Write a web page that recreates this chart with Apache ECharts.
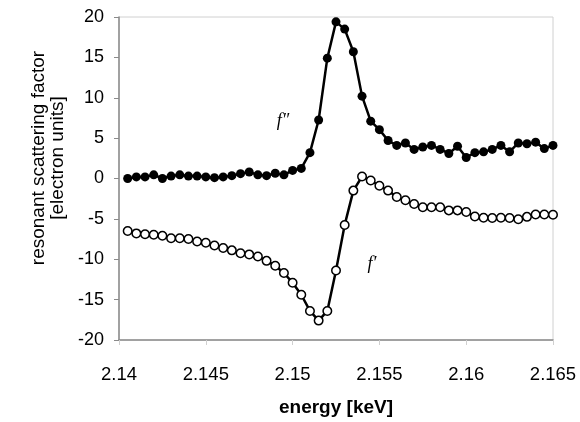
<!DOCTYPE html>
<html><head><meta charset="utf-8">
<script src="https://cdn.jsdelivr.net/npm/echarts@6/dist/echarts.min.js"></script>
<style>html,body{margin:0;padding:0;background:#fff}#c{width:580px;height:422px}</style>
</head><body><div id="c"></div>
<script>
var energy = [2.1405,2.141,2.1415,2.142,2.1425,2.143,2.1435,2.144,2.1445,2.145,
  2.1455,2.146,2.1465,2.147,2.1475,2.148,2.1485,2.149,2.1495,2.15,
  2.1505,2.151,2.1515,2.152,2.1525,2.153,2.1535,2.154,2.1545,2.155,
  2.1555,2.156,2.1565,2.157,2.1575,2.158,2.1585,2.159,2.1595,2.16,
  2.1605,2.161,2.1615,2.162,2.1625,2.163,2.1635,2.164,2.1645,2.165];
var fDoublePrime = [0.0,0.2,0.2,0.45,0.0,0.3,0.45,0.3,0.3,0.2,
  0.1,0.2,0.35,0.6,0.8,0.45,0.35,0.65,0.45,1.0,
  1.25,3.2,7.25,14.9,19.4,18.5,15.7,10.2,7.1,6.05,
  4.7,4.1,4.4,3.6,3.9,4.1,3.6,3.1,4.0,2.6,
  3.2,3.3,3.6,4.1,3.3,4.4,4.3,4.5,3.7,4.1];
var fPrime = [-6.5,-6.8,-6.9,-6.97,-7.1,-7.4,-7.4,-7.5,-7.8,-7.95,
  -8.3,-8.6,-8.9,-9.25,-9.4,-9.65,-10.2,-10.8,-11.7,-12.9,
  -14.4,-16.4,-17.6,-16.4,-11.4,-5.75,-1.5,0.25,-0.25,-0.9,
  -1.5,-2.3,-2.7,-3.15,-3.55,-3.55,-3.55,-3.95,-3.95,-4.15,
  -4.7,-4.85,-4.9,-4.85,-4.9,-5.05,-4.75,-4.45,-4.45,-4.5];
var yTitleLines = ['resonant scattering factor','[electron units]'];
var xTitle = 'energy [keV]';
var seriesLabels = ['f\u2033','f\u2032'];

function pairs(ys){ return energy.map(function(e,i){return [e, ys[i]];}); }

var chart = echarts.init(document.getElementById('c'), null, {renderer:'canvas'});
chart.setOption({
  animation:false,
  backgroundColor:'#fff',
  grid:{left:119,right:27,top:17,bottom:77,show:true,borderColor:'#d0d0d0',borderWidth:1},
  xAxis:{type:'value',min:2.14,max:2.165,interval:0.005,
    axisLine:{show:true,onZero:false,lineStyle:{color:'#8a8a8a',width:1.5}},
    axisTick:{show:true,length:5,lineStyle:{color:'#d0d0d0'}},
    splitLine:{show:false},
    axisLabel:{color:'#000',fontFamily:'Liberation Sans',fontSize:18.5,margin:25,
      formatter:function(v){return String(+v.toFixed(3));}},
    name:xTitle,nameLocation:'middle',nameGap:58,
    nameTextStyle:{color:'#000',fontFamily:'Liberation Sans',fontSize:19,fontWeight:'bold'}},
  yAxis:{type:'value',min:-20,max:20,interval:5,
    axisLine:{show:true,onZero:false,lineStyle:{color:'#8a8a8a',width:1.5}},
    axisTick:{show:true,length:5,lineStyle:{color:'#8a8a8a'}},
    splitLine:{show:false},
    axisLabel:{color:'#000',fontFamily:'Liberation Sans',fontSize:18,margin:15}},
  graphic:[
    {type:'text',x:48,y:158,rotation:Math.PI/2,
      style:{text:yTitleLines.join('\n'),font:'19px "Liberation Sans"',lineHeight:19,fill:'#000',align:'center',verticalAlign:'middle'}},
    {type:'text',x:283,y:121,style:{text:seriesLabels[0],font:'italic 18px "Liberation Serif"',fill:'#000',align:'center',verticalAlign:'middle'}},
    {type:'text',x:372,y:264,style:{text:seriesLabels[1],font:'italic 18px "Liberation Serif"',fill:'#000',align:'center',verticalAlign:'middle'}}
  ],
  series:[
    {type:'line',data:pairs(fDoublePrime),symbol:'circle',symbolSize:9,showAllSymbol:true,
      lineStyle:{color:'#000',width:2.5},itemStyle:{color:'#000',borderColor:'#000',borderWidth:0}},
    {type:'line',data:pairs(fPrime),symbol:'circle',symbolSize:8.5,showAllSymbol:true,
      lineStyle:{color:'#000',width:2.5},itemStyle:{color:'#fff',borderColor:'#000',borderWidth:1.5}}
  ]
});
</script></body></html>
